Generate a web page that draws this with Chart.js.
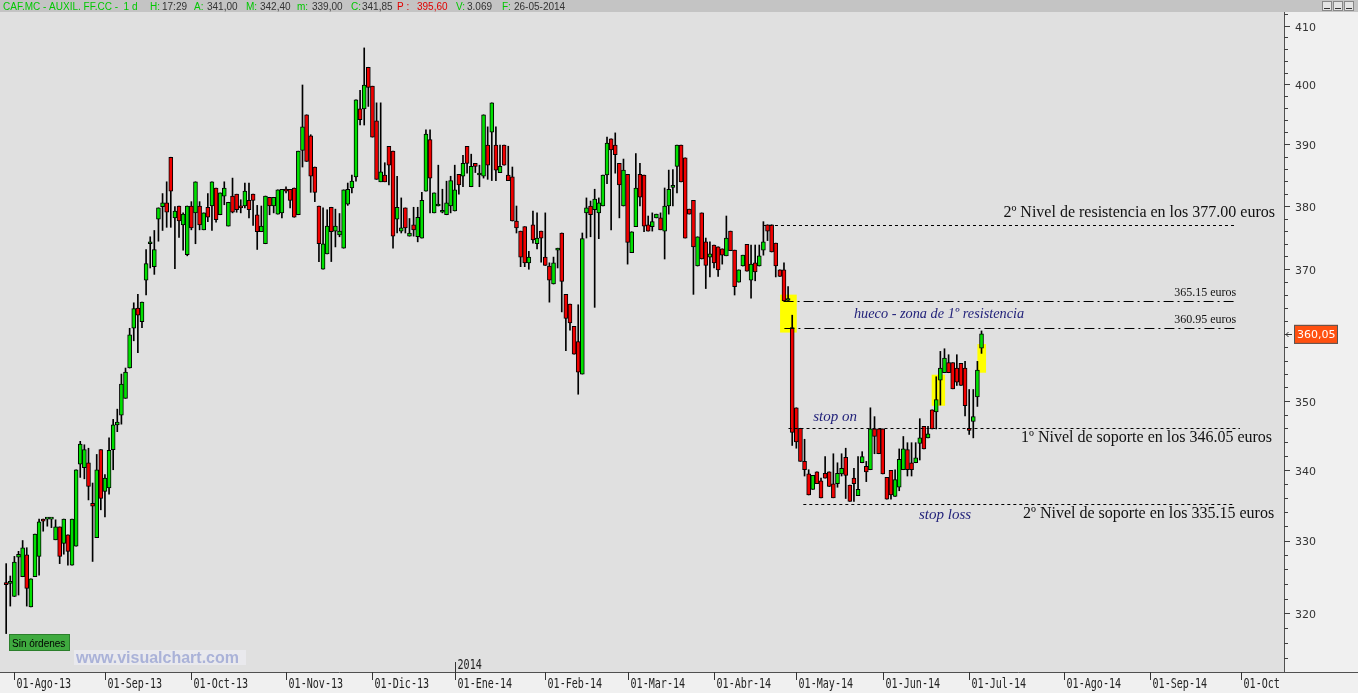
<!DOCTYPE html>
<html>
<head>
<meta charset="utf-8">
<title>CAF.MC - 1 d</title>
<script src="https://cdn.jsdelivr.net/npm/chart.js@4.4.1/dist/chart.umd.min.js"></script>
<style>
html, body { margin: 0; padding: 0; background: #f0f0f0; overflow: hidden; }
canvas { display: block; }
</style>
</head>
<body>
<canvas id="chart" width="1358" height="693"></canvas>
<script>
// trading calendar (one category per session, future sessions left empty)
const firstDay = '2013-07-29';
const dayCount = 312;
const holidays = ['2013-12-25', '2013-12-26', '2014-01-01', '2014-04-18', '2014-04-21', '2014-05-01'];
const monthTicks = ['01-Ago-13', '01-Sep-13', '01-Oct-13', '01-Nov-13', '01-Dic-13', '01-Ene-14',
  '01-Feb-14', '01-Mar-14', '01-Abr-14', '01-May-14', '01-Jun-14', '01-Jul-14', '01-Ago-14', '01-Sep-14', '01-Oct'];
const yearTick = { label: '2014', month: 5 };
const yTicks = [320, 330, 340, 350, 360, 370, 380, 390, 400, 410];
const lastPrice = 360.05;

// OHLC, first session (29-07-2013) empty
const open = [null,
  324.2,324.1,322.3,327.7,325.0,328.0,320.9,325.0,327.8,333.0,
  333.0,333.0,330.1,331.9,329.6,330.8,326.6,329.2,340.8,340.3,
  341.0,335.2,330.4,342.9,336.9,337.4,342.9,346.5,347.9,350.4,
  354.9,360.9,364.0,361.9,368.3,374.0,370.4,377.9,379.9,380.5,
  387.9,378.1,380.0,377.0,372.3,380.0,378.9,380.0,376.2,379.8,
  380.0,382.9,378.6,381.6,376.8,381.6,381.9,380.0,380.0,380.9,
  381.9,378.6,375.9,374.0,381.4,380.0,378.7,378.9,382.7,382.7,
  382.9,378.6,389.0,394.9,391.4,386.3,380.0,370.0,372.4,379.8,
  376.0,375.4,373.3,380.3,382.9,384.7,395.9,395.9,402.9,399.7,
  393.9,383.9,385.0,389.7,388.9,377.9,376.0,379.7,375.2,377.0,
  375.1,374.9,382.4,390.8,378.9,380.0,379.0,378.6,380.0,379.2,
  385.1,384.8,389.7,383.1,386.9,385.0,384.8,389.9,392.0,389.9,
  385.4,389.9,385.0,384.7,377.6,376.0,376.7,371.0,377.0,374.0,
  376.0,371.9,370.5,367.7,373.0,375.7,366.1,364.6,361.2,358.9,
  354.0,378.9,380.0,379.4,378.9,380.0,385.0,390.9,389.9,386.9,
  380.0,385.1,372.6,376.7,385.1,385.0,377.0,376.7,378.1,378.1,
  376.0,380.0,383.0,386.4,389.9,387.8,379.5,380.9,370.5,378.9,
  374.3,371.9,373.8,373.5,373.2,372.1,376.0,373.0,368.0,370.5,
  373.9,368.3,371.0,370.5,373.0,377.0,377.0,374.1,369.9,369.9,
  365.15,361.0,349.0,346.0,341.2,339.4,337.2,339.7,338.4,339.5,
  339.7,338.0,338.0,339.4,341.8,337.8,338.8,336.3,341.0,340.5,
  340.0,345.9,345.9,345.9,338.9,339.9,336.2,337.5,340.0,342.9,
  341.0,341.0,343.8,346.3,344.6,348.7,348.4,353.1,354.2,355.7,
  355.7,354.9,355.6,354.9,346.0,347.0,350.6,357.9];
const high = [null,
  326.8,325.1,327.8,328.5,330.0,329.0,324.7,330.9,333.0,333.0,
  333.0,333.0,332.9,331.9,333.0,330.8,333.0,340.0,344.1,343.6,
  343.1,338.1,342.2,342.9,339.3,344.6,347.3,348.8,354.0,354.9,
  360.9,364.8,366.1,364.9,373.1,375.1,376.1,379.7,382.0,383.9,
  387.9,379.9,380.0,378.9,380.0,380.7,383.9,380.7,378.9,382.0,
  383.9,382.9,382.1,383.9,380.6,384.5,381.9,381.0,383.7,383.7,
  381.9,380.1,380.0,381.6,381.4,381.4,382.6,382.7,383.1,382.7,
  382.9,388.9,399.9,394.9,391.6,386.3,380.0,379.7,379.4,379.8,
  379.5,378.8,382.6,383.7,385.0,397.4,399.0,406.2,402.9,399.7,
  396.9,396.9,387.0,389.7,388.9,384.8,381.3,379.7,378.0,379.8,
  379.8,382.2,392.4,392.4,382.1,386.6,382.7,384.0,384.8,386.6,
  385.1,388.2,389.7,388.4,386.9,386.6,394.9,392.9,396.9,392.9,
  389.9,389.9,389.7,386.3,380.0,376.0,376.7,372.8,379.2,378.9,
  376.0,378.9,371.0,371.9,373.3,375.7,366.1,364.6,361.2,364.5,
  375.7,381.3,380.8,382.7,381.3,385.0,391.2,390.9,391.9,386.9,
  387.6,385.1,375.9,388.5,386.9,385.0,378.4,378.9,378.7,378.9,
  382.9,385.8,385.9,389.9,389.9,387.8,379.5,380.9,375.1,378.9,
  374.9,374.3,373.8,373.5,373.2,378.4,376.0,373.0,369.9,372.2,
  373.9,373.8,373.8,373.8,377.5,377.0,377.0,374.1,369.9,371.0,
  367.3,362.9,349.0,346.0,344.4,340.0,339.2,339.7,338.8,341.9,
  339.7,342.3,341.0,342.3,343.1,337.8,340.2,341.9,342.6,341.2,
  349.0,347.7,345.9,345.9,338.9,339.9,340.0,343.0,344.8,343.9,
  343.9,343.9,347.4,346.3,346.3,348.7,353.6,357.4,357.8,356.9,
  355.7,356.9,355.6,355.9,351.7,351.7,355.9,360.5];
const low = [null,
  317.3,321.0,322.3,322.5,325.0,321.0,320.9,325.0,325.2,331.3,
  332.0,331.8,330.1,326.8,328.1,326.6,326.6,329.2,338.9,338.7,
  335.7,327.1,330.4,334.3,333.3,336.5,340.0,345.5,346.6,350.4,
  354.9,359.0,357.2,361.0,366.0,370.2,369.2,374.4,376.1,376.6,
  376.6,370.1,375.0,373.0,372.1,376.2,374.0,376.2,376.2,377.5,
  376.1,377.4,378.6,380.2,376.8,378.9,379.0,378.9,379.7,378.1,
  376.9,373.1,375.9,374.0,378.6,378.9,378.7,378.1,382.1,379.7,
  378.2,378.6,386.3,387.2,382.2,380.7,371.2,370.0,372.4,371.2,
  373.5,375.1,373.3,380.1,382.1,384.0,393.2,393.2,396.3,391.2,
  384.3,383.9,383.9,383.4,373.3,375.7,375.7,375.7,375.2,375.2,
  374.3,374.9,382.4,378.9,378.9,380.0,378.9,378.6,378.9,379.2,
  381.9,383.1,385.3,383.1,385.4,383.1,384.5,384.3,384.1,384.1,
  385.4,386.6,384.1,377.6,375.7,370.4,370.4,370.0,374.1,373.2,
  371.1,370.6,364.9,367.7,370.2,363.4,357.5,360.6,357.0,351.0,
  354.0,374.9,375.1,364.1,374.8,380.0,383.6,376.2,385.3,378.1,
  380.0,370.8,372.6,376.7,380.0,375.9,376.0,376.0,378.1,376.2,
  371.6,378.7,380.0,382.1,383.9,374.9,378.7,366.1,370.5,371.6,
  367.0,368.8,370.2,368.9,370.8,372.1,372.9,366.0,368.0,370.5,
  369.7,365.5,368.2,370.5,372.2,374.5,372.7,368.8,368.9,365.1,
  365.15,343.5,343.1,341.2,339.1,336.4,337.2,338.0,336.0,338.8,
  337.6,336.0,337.5,339.1,335.9,335.5,335.5,336.3,341.0,338.3,
  340.0,342.3,342.3,339.4,335.8,335.8,336.2,337.0,340.0,339.1,
  339.1,341.0,341.4,343.0,344.6,345.9,345.9,349.4,354.2,354.2,
  351.8,352.3,352.3,347.8,345.1,344.6,349.2,357.1];
const close = [null,
  323.9,324.1,327.0,328.1,329.0,323.4,324.7,330.9,332.6,332.7,
  333.0,333.0,331.9,327.8,333.0,328.5,333.0,340.0,343.7,342.9,
  337.6,334.8,340.0,335.9,338.8,342.8,346.5,346.9,352.5,354.3,
  359.9,363.9,362.9,364.9,370.9,374.0,373.1,379.7,380.5,379.0,
  382.4,379.2,377.6,378.7,380.0,376.5,383.9,377.0,378.9,378.2,
  383.9,377.8,382.1,382.9,380.6,379.0,379.4,379.7,382.4,379.4,
  380.9,375.9,376.8,381.6,380.0,381.4,382.6,382.7,382.4,380.9,
  378.2,388.9,392.9,387.2,384.8,382.2,374.0,374.0,376.8,375.9,
  376.8,376.0,382.6,382.7,384.0,397.4,394.1,399.9,399.5,391.2,
  384.3,385.5,383.9,386.6,375.2,379.8,376.5,376.5,375.7,376.2,
  378.2,380.9,391.7,384.5,382.1,380.0,379.0,380.5,384.1,382.6,
  383.4,386.9,386.9,386.4,386.4,385.0,394.9,386.6,396.9,385.8,
  386.4,386.6,384.1,377.6,376.5,371.9,371.0,371.9,374.6,374.9,
  374.9,370.6,368.3,371.0,373.0,368.1,362.4,361.7,357.0,354.3,
  374.8,379.7,378.6,381.1,380.5,385.0,390.2,389.1,388.3,383.4,
  385.8,374.2,375.9,382.9,381.4,376.8,376.0,377.5,378.7,376.2,
  380.0,382.7,383.0,389.9,383.9,374.9,378.7,373.5,375.1,371.6,
  370.6,372.4,371.0,369.9,372.2,374.9,372.9,367.3,369.9,372.2,
  369.7,370.8,369.6,372.1,374.3,376.0,372.7,370.5,368.9,365.1,
  365.15,345.4,344.0,341.2,340.0,336.4,339.2,338.0,336.0,338.8,
  337.6,336.0,339.5,340.2,339.2,335.5,338.0,337.2,341.9,339.7,
  345.9,344.8,342.3,339.4,335.8,336.4,338.6,341.5,343.0,340.0,
  340.0,341.7,344.6,343.0,345.2,345.9,350.2,354.9,356.4,354.2,
  351.8,352.8,352.3,349.3,345.7,347.7,354.6,360.05];

// drawn levels and notes (session index, price)
const levels = [
  { value: 377.00, from: 184.9, to: 299.6, dash: [3, 3] },
  { value: 365.15, from: 189.9, to: 299.6, dash: [10, 4, 2, 4] },
  { value: 360.95, from: 190.1, to: 299.6, dash: [10, 4, 2, 4] },
  { value: 346.05, from: 191.1, to: 300.8, dash: [3, 3] },
  { value: 335.15, from: 194.7, to: 299.1, dash: [3, 3] }
];
const zones = [
  { from: 189.05, to: 193.1, lo: 360.25, hi: 366.06 },
  { from: 225.9, to: 229.15, lo: 349.3, hi: 353.9 },
  { from: 237.0, to: 239.1, lo: 354.2, hi: 358.5 }
];
const notes = [
  { text: '2º Nivel de resistencia en los 377.00 euros', at: 309.3, value: 377.00, dy: -12, align: 'right', kind: 'big' },
  { text: '365.15 euros', at: 299.9, value: 365.15, dy: -8, align: 'right', kind: 'small' },
  { text: '360.95 euros', at: 299.9, value: 360.95, dy: -8, align: 'right', kind: 'small' },
  { text: '1º Nivel de soporte en los 346.05 euros', at: 308.6, value: 346.05, dy: 10, align: 'right', kind: 'big' },
  { text: '2º Nivel de soporte en los 335.15 euros', at: 309.1, value: 335.15, dy: 10, align: 'right', kind: 'big' },
  { text: 'hueco - zona de 1º resistencia', at: 207.0, value: 363.0, dy: 0, align: 'left', kind: 'gap' },
  { text: 'stop on', at: 197.1, value: 347.7, dy: 0, align: 'left', kind: 'note' },
  { text: 'stop loss', at: 222.8, value: 333.6, dy: 0, align: 'left', kind: 'note' }
];
const header = [
  ['CAF.MC - AUXIL. FF.CC -  1 d', 3, 'g'], ['H:', 150, 'g'], ['17:29', 162, 'k'], ['A:', 194, 'g'],
  ['341,00', 207, 'k'], ['M:', 246, 'g'], ['342,40', 260, 'k'], ['m:', 297, 'g'], ['339,00', 312, 'k'],
  ['C:', 351, 'g'], ['341,85', 362, 'k'], ['P :', 397, 'r'], ['395,60', 417, 'r'], ['V:', 456, 'g'],
  ['3.069', 467, 'k'], ['F:', 502, 'g'], ['26-05-2014', 514, 'k']
];

// build categories
const categories = [];
const monthStarts = [];
(function () {
  const d = new Date(firstDay + 'T12:00:00Z');
  let month = d.getUTCMonth();
  while (categories.length < dayCount) {
    const iso = d.toISOString().slice(0, 10);
    const wd = d.getUTCDay();
    if (wd !== 0 && wd !== 6 && !holidays.includes(iso)) {
      if (d.getUTCMonth() !== month) {
        monthStarts.push(categories.length);
        month = d.getUTCMonth();
      }
      categories.push(iso);
    }
    d.setUTCDate(d.getUTCDate() + 1);
  }
})();

const wicks = high.map((h, i) => h == null ? null : [low[i], h]);
const bodies = open.map((o, i) => o == null ? null : [Math.min(o, close[i]), Math.max(o, close[i])]);
const bodyColors = open.map((o, i) => o == null ? 'transparent' : (close[i] >= o ? '#00e000' : '#f00000'));

const frame = {
  id: 'frame',
  beforeDraw(chart) {
    const { ctx, chartArea: a, width, height } = chart;
    ctx.save();
    ctx.fillStyle = '#f0f0f0';
    ctx.fillRect(0, 0, width, height);
    ctx.fillStyle = '#e0e0e0';
    ctx.fillRect(a.left, a.top, a.right - a.left, a.bottom - a.top);
    ctx.restore();
  },
  beforeDatasetsDraw(chart) {
    const { ctx } = chart;
    const x = chart.scales.x, y = chart.scales.y;
    ctx.save();
    ctx.fillStyle = '#ffff00';
    zones.forEach(z => {
      const x0 = x.getPixelForValue(z.from), x1 = x.getPixelForValue(z.to);
      const y0 = y.getPixelForValue(z.hi), y1 = y.getPixelForValue(z.lo);
      ctx.fillRect(x0, y0, x1 - x0, y1 - y0);
    });
    ctx.restore();
  },
  afterDatasetsDraw(chart) {
    const { ctx, chartArea: a } = chart;
    const x = chart.scales.x, y = chart.scales.y;
    ctx.save();
    // levels
    ctx.strokeStyle = '#000';
    ctx.lineWidth = 1;
    levels.forEach(l => {
      const py = Math.round(y.getPixelForValue(l.value)) + 0.5;
      ctx.setLineDash(l.dash);
      ctx.beginPath();
      ctx.moveTo(x.getPixelForValue(l.from), py);
      ctx.lineTo(x.getPixelForValue(l.to), py);
      ctx.stroke();
    });
    ctx.setLineDash([]);
    // notes
    ctx.textBaseline = 'middle';
    const fonts = {
      big: ['16px "Liberation Serif"', '#111'],
      small: ['12px "Liberation Serif"', '#111'],
      gap: ['italic 14.3px "Liberation Serif"', '#22227a'],
      note: ['italic 15px "Liberation Serif"', '#22227a']
    };
    notes.forEach(n => {
      ctx.font = fonts[n.kind][0];
      ctx.fillStyle = fonts[n.kind][1];
      ctx.textAlign = n.align;
      ctx.fillText(n.text, x.getPixelForValue(n.at), y.getPixelForValue(n.value) + n.dy);
    });
    // watermark
    ctx.fillStyle = 'rgba(235,235,240,0.8)';
    ctx.fillRect(74, a.bottom - 22, 172, 15);
    ctx.font = 'bold 16px "Liberation Sans"';
    ctx.fillStyle = '#aab2d8';
    ctx.textAlign = 'left';
    ctx.textBaseline = 'alphabetic';
    ctx.fillText('www.visualchart.com', 76, a.bottom - 9);
    // order status box
    ctx.fillStyle = '#3faa3f';
    ctx.fillRect(9, a.bottom - 38, 61, 17);
    ctx.strokeStyle = '#2b7f2b';
    ctx.strokeRect(9.5, a.bottom - 37.5, 60, 16);
    ctx.fillStyle = '#000';
    ctx.font = '10px "Liberation Sans"';
    ctx.fillText('Sin órdenes', 12, a.bottom - 25);
    ctx.restore();
  },
  afterDraw(chart) {
    const { ctx, chartArea: a, width, height } = chart;
    const x = chart.scales.x, y = chart.scales.y;
    ctx.save();
    // top bar
    ctx.fillStyle = '#c4c4c4';
    ctx.fillRect(0, 0, width, a.top);
    ctx.font = '10px "Liberation Sans"';
    ctx.textBaseline = 'alphabetic';
    ctx.textAlign = 'left';
    const hc = { g: '#00c800', k: '#333', r: '#e00000' };
    header.forEach(([t, px, c]) => { ctx.fillStyle = hc[c]; ctx.fillText(t, px, 10); });
    [1322, 1333, 1344].forEach(bx => {
      ctx.fillStyle = '#e4e4e4';
      ctx.fillRect(bx, 1, 10, 10);
      ctx.strokeStyle = '#888';
      ctx.strokeRect(bx + 0.5, 1.5, 9, 9);
      ctx.fillStyle = '#333';
      ctx.fillRect(bx + 2, 8, 6, 1);
    });
    // axis lines
    ctx.strokeStyle = '#505050';
    ctx.lineWidth = 1;
    ctx.beginPath();
    ctx.moveTo(a.right + 0.5, a.top);
    ctx.lineTo(a.right + 0.5, a.bottom);
    ctx.moveTo(0, a.bottom + 0.5);
    ctx.lineTo(width, a.bottom + 0.5);
    ctx.stroke();
    // price axis
    ctx.strokeStyle = '#404040';
    ctx.beginPath();
    for (let v = 314; v <= 412; v += 2) {
      const py = Math.round(y.getPixelForValue(v)) + 0.5;
      const len = v % 10 === 0 ? 6 : 4;
      ctx.moveTo(a.right, py);
      ctx.lineTo(a.right + len, py);
    }
    ctx.stroke();
    ctx.font = '11px "DejaVu Sans"';
    ctx.fillStyle = '#333';
    ctx.textBaseline = 'middle';
    yTicks.forEach(v => ctx.fillText(String(v), a.right + 11, y.getPixelForValue(v) + 2));
    // last price tag
    const py = y.getPixelForValue(lastPrice);
    ctx.fillStyle = '#ff5010';
    ctx.fillRect(a.right + 10, py - 9, 44, 19);
    ctx.strokeStyle = '#555';
    ctx.strokeRect(a.right + 10.5, py - 8.5, 43, 18);
    ctx.fillStyle = '#fff';
    ctx.fillText(lastPrice.toFixed(2).replace('.', ','), a.right + 13, py + 1);
    ctx.strokeStyle = '#333';
    ctx.beginPath();
    ctx.moveTo(a.right + 2, Math.round(py) + 0.5);
    ctx.lineTo(a.right + 8, Math.round(py) + 0.5);
    ctx.moveTo(a.right + 4.5, Math.round(py) - 2);
    ctx.lineTo(a.right + 2, Math.round(py) + 0.5);
    ctx.lineTo(a.right + 4.5, Math.round(py) + 3);
    ctx.stroke();
    // time axis
    ctx.beginPath();
    ctx.rect(0, a.top, a.right, height - a.top);
    ctx.clip();
    ctx.strokeStyle = '#333';
    ctx.fillStyle = '#222';
    ctx.textBaseline = 'alphabetic';
    const mono = (t, px, py) => {
      ctx.save();
      ctx.translate(px, py);
      ctx.scale(0.72, 1);
      ctx.font = '14px "DejaVu Sans Mono"';
      ctx.fillText(t, 0, 0);
      ctx.restore();
    };
    monthStarts.forEach((idx, k) => {
      if (!monthTicks[k]) return;
      const px = Math.round(x.getPixelForValue(idx)) + 0.5;
      ctx.beginPath();
      ctx.moveTo(px, a.bottom);
      ctx.lineTo(px, a.bottom + 8);
      ctx.stroke();
      mono(monthTicks[k], px + 2, a.bottom + 16);
    });
    const yx = Math.round(x.getPixelForValue(monthStarts[yearTick.month])) + 0.5;
    ctx.beginPath();
    ctx.moveTo(yx, a.bottom - 10);
    ctx.lineTo(yx, a.bottom);
    ctx.stroke();
    mono(yearTick.label, yx + 2, a.bottom - 3);
    ctx.restore();
  }
};

new Chart(document.getElementById('chart'), {
  type: 'bar',
  data: {
    labels: categories,
    datasets: [
      { label: 'Rango', data: wicks, backgroundColor: '#000', borderWidth: 0,
        barThickness: 1, grouped: false, order: 2, minBarLength: 1 },
      { label: 'Cuerpo', data: bodies, backgroundColor: bodyColors, borderColor: '#000',
        borderWidth: 1, borderSkipped: false, barThickness: 4, grouped: false, order: 1, minBarLength: 2 }
    ]
  },
  options: {
    responsive: false,
    devicePixelRatio: 1,
    animation: false,
    events: [],
    layout: { padding: { left: 0, top: 12, right: 74, bottom: 21 } },
    scales: {
      x: { display: false, offset: true },
      y: { type: 'logarithmic', display: false, min: 312.2, max: 412.4 }
    },
    plugins: { legend: { display: false }, tooltip: { enabled: false } }
  },
  plugins: [frame]
});
</script>
</body>
</html>
